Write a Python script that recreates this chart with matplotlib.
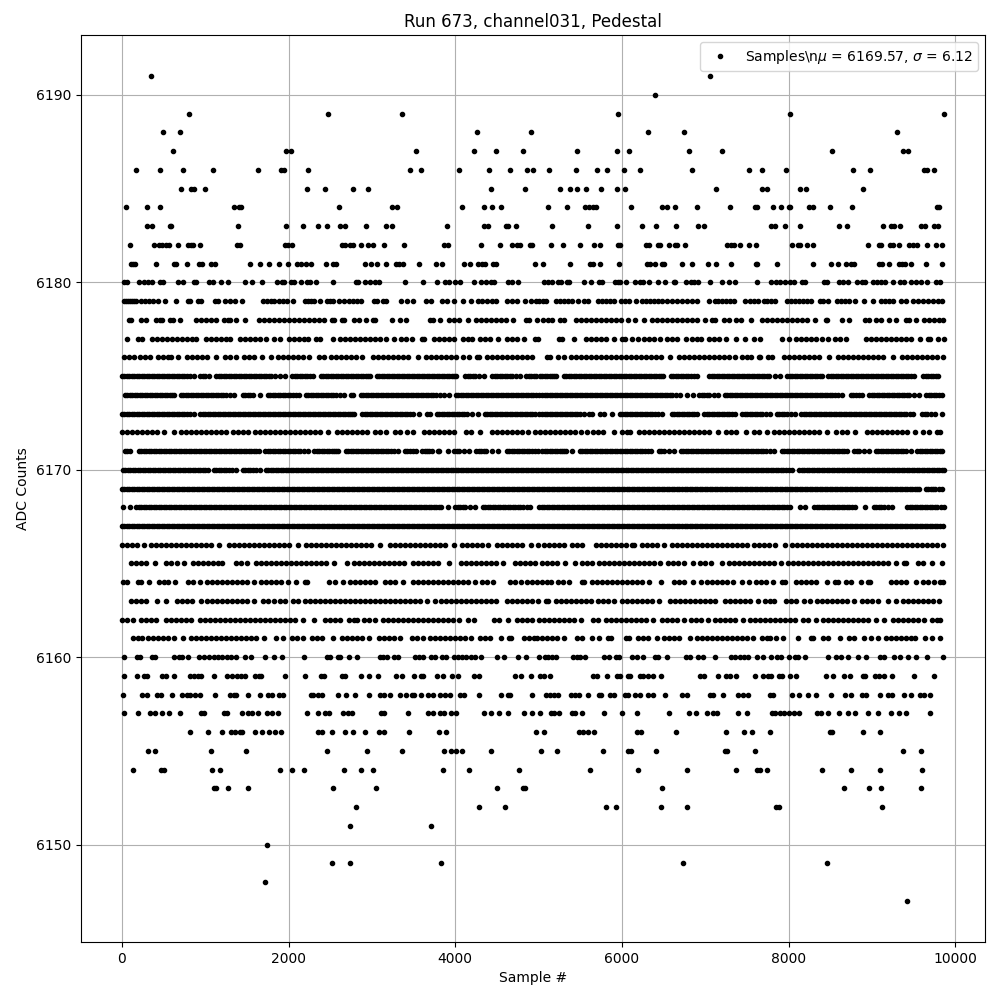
import matplotlib
matplotlib.use("Agg")
import matplotlib.pyplot as plt

s6191 = [344, 7056]
s6190 = [6396]
s6189 = [800, 2468, 3356, 5952, 8016, 9864]
s6188 = [488, 692, 4256, 4904, 6312, 6744, 9300]
s6187 = [608, 1964, 2024, 3524, 4220, 4484, 4808, 5460, 5940, 6084, 6804, 7200, 8520, 9372, 9432]
s6186 = [164, 452, 728, 1088, 1628, 1904, 1940, 2228, 3452, 3584, 4040, 4400, 4652, 4856, 4928, 5124, 5448, 5700, 5820, 6024, 6216, 6840, 7524, 7680, 7968, 8772, 8976, 9624, 9660, 9744]
s6185 = [704, 824, 860, 992, 2216, 2432, 2768, 2948, 4424, 4832, 5256, 5376, 5460, 5568, 5748, 5940, 6036, 7128, 7680, 7740, 8136, 8208, 8892]
s6184 = [44, 296, 452, 1340, 1400, 1424, 2600, 3236, 3296, 4076, 4340, 4436, 4548, 5112, 5340, 5556, 5604, 5652, 5688, 6108, 6480, 6540, 6636, 6900, 7296, 7596, 7620, 7812, 7908, 8004, 8016, 8244, 8292, 8496, 8760, 9780, 9804]
s6183 = [296, 356, 572, 584, 1388, 1964, 2168, 2348, 2456, 2612, 2672, 2924, 3164, 3236, 3896, 4340, 4388, 4604, 4628, 4724, 5160, 5592, 5940, 6240, 6408, 6648, 6912, 6984, 7788, 7836, 7956, 8136, 8604, 8700, 9132, 9228, 9264, 9336, 9588, 9636, 9744, 9792]
s6182 = [92, 380, 440, 476, 524, 560, 668, 788, 824, 848, 932, 1376, 1412, 1952, 1988, 2036, 2636, 2672, 2732, 2768, 2864, 2948, 3008, 3140, 3380, 3860, 3908, 4304, 4532, 4676, 4736, 4772, 4892, 4916, 5148, 5292, 5496, 5664, 5736, 5952, 5976, 6288, 6324, 6432, 6456, 6564, 6636, 6660, 6756, 7260, 7308, 7344, 7416, 7524, 7608, 8040, 8112, 8136, 8220, 8292, 8952, 9084, 9108, 9216, 9252, 9324, 9444, 9492, 9540, 9660, 9768, 9840]
s6181 = [104, 128, 152, 404, 620, 644, 776, 920, 956, 1064, 1112, 1532, 1652, 1760, 1880, 1988, 2096, 2144, 2204, 2264, 2444, 2528, 2564, 2912, 2984, 3056, 3164, 3284, 3320, 3368, 3560, 3764, 3836, 4100, 4172, 4268, 4316, 4352, 4448, 4484, 4952, 5052, 5376, 5616, 5652, 5736, 5964, 6300, 6336, 6396, 6480, 6504, 6720, 6840, 7032, 7128, 7308, 7608, 7620, 7860, 8292, 8508, 8592, 8688, 8748, 8784, 9084, 9120, 9204, 9324, 9360, 9396, 9468, 9648, 9840]
s6180 = [20, 56, 200, 260, 308, 356, 452, 488, 668, 728, 860, 884, 1040, 1088, 1184, 1268, 1472, 1556, 1676, 1856, 1916, 1940, 2024, 2060, 2144, 2216, 2252, 2324, 2528, 2804, 2828, 2912, 2972, 3032, 3080, 3392, 3608, 3776, 3872, 3920, 3992, 4052, 4220, 4304, 4364, 4424, 4460, 4628, 4676, 4752, 5064, 5112, 5160, 5232, 5268, 5340, 5364, 5544, 5628, 5724, 5760, 5916, 5952, 5976, 6048, 6156, 6216, 6252, 6324, 6432, 6516, 6624, 6636, 6768, 6828, 6864, 6912, 7056, 7200, 7284, 7356, 7620, 7788, 7848, 7896, 7956, 8016, 8064, 8160, 8196, 8424, 8460, 8604, 8652, 8712, 8820, 8880, 8916, 9012, 9060, 9108, 9156, 9252, 9336, 9384, 9468, 9528, 9588, 9660, 9768, 9816]
s6179 = [20, 44, 68, 92, 116, 140, 164, 224, 272, 320, 368, 428, 512, 644, 788, 812, 908, 944, 1112, 1148, 1232, 1292, 1352, 1436, 1688, 1736, 1784, 1820, 1880, 1928, 1976, 2048, 2192, 2228, 2264, 2300, 2372, 2456, 2492, 2528, 2600, 2660, 2720, 2768, 2816, 2864, 3020, 3056, 3128, 3164, 3344, 3416, 3488, 3644, 3704, 3836, 3896, 3980, 4088, 4184, 4268, 4316, 4376, 4436, 4484, 4616, 4676, 4736, 4832, 4904, 4964, 5004, 5052, 5088, 5208, 5256, 5304, 5352, 5400, 5476, 5544, 5592, 5712, 5760, 5808, 5856, 5904, 5988, 6036, 6084, 6168, 6240, 6288, 6336, 6384, 6432, 6480, 6540, 6600, 6660, 6720, 6780, 6840, 6900, 7044, 7116, 7152, 7200, 7248, 7296, 7344, 7476, 7536, 7584, 7632, 7704, 7740, 7788, 7836, 7980, 8028, 8076, 8124, 8172, 8220, 8268, 8376, 8412, 8472, 8580, 8628, 8676, 8724, 8796, 8904, 9012, 9108, 9156, 9204, 9252, 9348, 9408, 9492, 9552, 9612, 9672, 9732, 9792, 9840]
s6178 = [88, 104, 232, 292, 404, 452, 476, 580, 608, 692, 892, 952, 1012, 1072, 1128, 1228, 1268, 1300, 1366, 1476, 1640, 1700, 1760, 1820, 1880, 1940, 2000, 2060, 2120, 2180, 2240, 2300, 2360, 2420, 2524, 2548, 2644, 2668, 2788, 2848, 2928, 3016, 3040, 3244, 3340, 3412, 3700, 3732, 3812, 3928, 3988, 4048, 4148, 4252, 4312, 4372, 4432, 4492, 4552, 4612, 4692, 4852, 4884, 4984, 5056, 5116, 5160, 5252, 5300, 5444, 5504, 5564, 5624, 5684, 5744, 5804, 5864, 5924, 5984, 6068, 6160, 6260, 6364, 6424, 6484, 6544, 6604, 6664, 6724, 6784, 6844, 6904, 7000, 7076, 7120, 7224, 7280, 7372, 7428, 7550, 7676, 7736, 7796, 7856, 7916, 7976, 8036, 8096, 8156, 8216, 8316, 8444, 8460, 8644, 8724, 8916, 8964, 9044, 9104, 9200, 9284, 9412, 9440, 9524, 9628, 9688, 9748, 9808, 9852]
s6177 = [58, 196, 244, 364, 424, 484, 544, 604, 664, 724, 784, 844, 888, 1012, 1072, 1132, 1192, 1252, 1300, 1420, 1480, 1540, 1600, 1660, 1724, 1824, 1892, 2004, 2064, 2124, 2184, 2228, 2332, 2372, 2530, 2620, 2680, 2740, 2800, 2860, 2920, 2980, 3040, 3100, 3172, 3262, 3352, 3408, 3480, 3604, 3620, 3744, 3804, 3864, 3924, 3988, 4092, 4152, 4196, 4292, 4352, 4412, 4508, 4620, 4680, 4740, 4820, 4952, 4988, 5244, 5280, 5424, 5564, 5624, 5684, 5744, 5804, 5908, 6004, 6040, 6124, 6188, 6268, 6328, 6388, 6452, 6540, 6600, 6660, 6772, 6844, 6904, 6952, 7044, 7104, 7164, 7252, 7370, 7476, 7584, 7652, 7924, 8000, 8092, 8152, 8212, 8272, 8332, 8400, 8468, 8556, 8616, 8692, 8924, 8984, 9044, 9104, 9164, 9224, 9284, 9344, 9404, 9464, 9580, 9676, 9700, 9796, 9868]
s6176 = [24, 84, 144, 216, 276, 340, 432, 492, 552, 588, 670, 780, 840, 900, 960, 1020, 1128, 1236, 1292, 1364, 1464, 1524, 1588, 1680, 1788, 1872, 1932, 1992, 2052, 2112, 2176, 2242, 2364, 2428, 2512, 2572, 2632, 2692, 2752, 2808, 2880, 3012, 3072, 3132, 3192, 3252, 3312, 3372, 3432, 3548, 3652, 3712, 3772, 3832, 3892, 3952, 4012, 4088, 4160, 4260, 4288, 4380, 4440, 4500, 4560, 4620, 4680, 4740, 4800, 4860, 4916, 5104, 5140, 5232, 5308, 5392, 5452, 5512, 5572, 5632, 5692, 5752, 5812, 5872, 5932, 5992, 6052, 6112, 6172, 6232, 6292, 6352, 6412, 6472, 6572, 6684, 6744, 6804, 6864, 6924, 6984, 7044, 7104, 7164, 7224, 7284, 7356, 7444, 7504, 7548, 7644, 7652, 7756, 7800, 7948, 8008, 8068, 8128, 8188, 8248, 8308, 8368, 8484, 8592, 8652, 8712, 8772, 8832, 8892, 8952, 9012, 9072, 9132, 9252, 9356, 9416, 9476, 9536, 9596, 9656, 9716, 9776, 9852]
s6175 = [0, 30, 60, 90, 120, 150, 180, 210, 240, 270, 300, 330, 360, 390, 420, 450, 480, 510, 540, 570, 600, 630, 660, 690, 720, 750, 780, 820, 860, 940, 970, 1000, 1040, 1132, 1162, 1192, 1222, 1252, 1282, 1312, 1342, 1372, 1402, 1432, 1462, 1492, 1522, 1552, 1582, 1612, 1642, 1672, 1702, 1732, 1762, 1792, 1840, 1892, 1960, 2044, 2074, 2104, 2134, 2164, 2194, 2224, 2260, 2296, 2388, 2418, 2448, 2478, 2508, 2538, 2568, 2598, 2628, 2658, 2688, 2718, 2748, 2778, 2808, 2838, 2868, 2898, 2928, 2955, 2980, 3060, 3090, 3120, 3150, 3180, 3210, 3240, 3270, 3300, 3330, 3360, 3390, 3420, 3450, 3480, 3510, 3540, 3570, 3600, 3630, 3660, 3690, 3720, 3750, 3780, 3810, 3840, 3870, 3900, 3930, 3960, 3985, 4008, 4120, 4150, 4180, 4210, 4240, 4290, 4340, 4444, 4474, 4504, 4534, 4564, 4594, 4624, 4654, 4684, 4730, 4776, 4852, 4882, 4912, 4942, 4972, 5014, 5044, 5074, 5104, 5134, 5164, 5186, 5208, 5304, 5334, 5364, 5394, 5424, 5454, 5484, 5514, 5544, 5574, 5604, 5634, 5664, 5694, 5724, 5754, 5784, 5814, 5844, 5874, 5904, 5934, 5964, 5994, 6024, 6054, 6084, 6114, 6144, 6174, 6204, 6234, 6264, 6294, 6324, 6354, 6384, 6414, 6444, 6468, 6492, 6584, 6614, 6644, 6674, 6704, 6734, 6764, 6794, 6824, 6860, 6900, 7044, 7074, 7104, 7134, 7164, 7194, 7224, 7254, 7284, 7314, 7344, 7374, 7404, 7434, 7464, 7494, 7524, 7554, 7584, 7614, 7644, 7674, 7704, 7734, 7764, 7830, 7900, 7984, 8014, 8044, 8074, 8104, 8134, 8164, 8194, 8224, 8254, 8284, 8314, 8344, 8372, 8400, 8476, 8506, 8536, 8566, 8596, 8626, 8656, 8686, 8716, 8746, 8776, 8806, 8836, 8866, 8896, 8926, 8956, 8986, 9016, 9046, 9076, 9106, 9136, 9166, 9196, 9226, 9256, 9286, 9316, 9346, 9376, 9406, 9436, 9470, 9508, 9612, 9642, 9672, 9702, 9732, 9764, 9796]
s6174 = [32, 62, 92, 122, 152, 182, 212, 242, 272, 302, 332, 362, 392, 422, 452, 482, 512, 542, 572, 600, 628, 708, 738, 768, 798, 828, 858, 888, 918, 948, 978, 1008, 1038, 1068, 1098, 1128, 1158, 1188, 1218, 1248, 1295, 1340, 1452, 1482, 1512, 1540, 1568, 1660, 1752, 1782, 1812, 1842, 1872, 1902, 1932, 1962, 1992, 2022, 2052, 2090, 2128, 2204, 2234, 2264, 2294, 2324, 2354, 2384, 2414, 2444, 2474, 2504, 2534, 2564, 2612, 2660, 2744, 2768, 2868, 2898, 2928, 2958, 2988, 3018, 3048, 3078, 3108, 3138, 3168, 3198, 3228, 3258, 3288, 3318, 3348, 3378, 3408, 3438, 3468, 3498, 3528, 3558, 3588, 3618, 3648, 3678, 3708, 3738, 3768, 3818, 3868, 3928, 4004, 4034, 4064, 4094, 4124, 4154, 4184, 4214, 4244, 4274, 4304, 4334, 4364, 4394, 4424, 4454, 4484, 4514, 4544, 4574, 4604, 4634, 4664, 4694, 4724, 4754, 4784, 4814, 4844, 4874, 4904, 4934, 4964, 5004, 5044, 5074, 5104, 5134, 5164, 5194, 5224, 5254, 5284, 5314, 5344, 5374, 5404, 5434, 5464, 5494, 5524, 5554, 5584, 5614, 5644, 5674, 5704, 5734, 5764, 5794, 5824, 5854, 5884, 5914, 5944, 5974, 6004, 6034, 6064, 6094, 6124, 6154, 6184, 6214, 6244, 6274, 6304, 6334, 6364, 6394, 6424, 6454, 6484, 6514, 6544, 6574, 6604, 6652, 6700, 6776, 6848, 6924, 6954, 6984, 7014, 7044, 7098, 7152, 7232, 7262, 7292, 7322, 7352, 7382, 7412, 7442, 7472, 7502, 7532, 7562, 7592, 7622, 7652, 7682, 7712, 7742, 7772, 7802, 7832, 7862, 7892, 7922, 7952, 7982, 8012, 8042, 8072, 8102, 8132, 8162, 8192, 8222, 8252, 8282, 8312, 8342, 8372, 8402, 8432, 8462, 8492, 8522, 8552, 8596, 8640, 8744, 8774, 8804, 8842, 8880, 8964, 8994, 9024, 9054, 9084, 9114, 9144, 9174, 9204, 9234, 9264, 9294, 9324, 9354, 9384, 9414, 9444, 9504, 9564, 9652, 9682, 9712, 9742, 9772, 9806, 9840]
s6173 = [0, 30, 60, 90, 120, 150, 180, 210, 240, 270, 300, 330, 360, 390, 420, 450, 480, 510, 540, 570, 600, 630, 660, 690, 720, 750, 780, 820, 860, 940, 970, 1000, 1030, 1060, 1090, 1120, 1150, 1180, 1210, 1240, 1270, 1300, 1330, 1360, 1390, 1420, 1450, 1480, 1510, 1540, 1570, 1600, 1630, 1660, 1690, 1720, 1750, 1780, 1810, 1840, 1870, 1900, 1930, 1960, 1990, 2020, 2050, 2080, 2110, 2140, 2170, 2200, 2230, 2260, 2290, 2320, 2350, 2380, 2410, 2440, 2470, 2500, 2530, 2560, 2590, 2620, 2650, 2680, 2710, 2740, 2764, 2788, 2884, 2914, 2944, 2974, 3004, 3034, 3064, 3094, 3124, 3154, 3184, 3214, 3244, 3274, 3304, 3334, 3364, 3394, 3424, 3456, 3488, 3570, 3664, 3700, 3780, 3810, 3840, 3870, 3900, 3930, 3960, 3990, 4020, 4050, 4080, 4110, 4140, 4204, 4268, 4356, 4386, 4416, 4446, 4476, 4506, 4536, 4566, 4596, 4626, 4656, 4686, 4716, 4746, 4776, 4806, 4836, 4866, 4896, 4926, 4956, 5000, 5044, 5074, 5104, 5134, 5164, 5194, 5224, 5254, 5284, 5314, 5344, 5374, 5404, 5434, 5464, 5502, 5540, 5604, 5640, 5736, 5780, 5876, 5972, 6002, 6032, 6062, 6092, 6122, 6152, 6182, 6212, 6242, 6272, 6302, 6332, 6362, 6392, 6436, 6480, 6596, 6626, 6656, 6686, 6716, 6746, 6776, 6806, 6836, 6868, 6900, 6988, 7018, 7048, 7078, 7108, 7138, 7168, 7198, 7228, 7258, 7288, 7322, 7356, 7444, 7474, 7504, 7534, 7564, 7594, 7624, 7654, 7684, 7732, 7780, 7856, 7886, 7916, 7946, 7976, 8024, 8072, 8152, 8182, 8212, 8242, 8272, 8302, 8332, 8362, 8392, 8422, 8452, 8482, 8512, 8542, 8572, 8602, 8632, 8662, 8692, 8722, 8752, 8782, 8812, 8842, 8872, 8902, 8932, 8962, 8992, 9022, 9052, 9082, 9112, 9142, 9172, 9202, 9232, 9262, 9292, 9322, 9352, 9382, 9412, 9452, 9492, 9604, 9634, 9664, 9712, 9760, 9842]
s6172 = [0, 60, 120, 180, 240, 300, 360, 420, 500, 624, 712, 772, 832, 892, 952, 1012, 1072, 1132, 1192, 1248, 1332, 1392, 1452, 1508, 1596, 1656, 1716, 1776, 1836, 1896, 1956, 2016, 2076, 2136, 2196, 2256, 2316, 2376, 2468, 2580, 2640, 2700, 2760, 2820, 2880, 2940, 3032, 3092, 3172, 3276, 3336, 3420, 3492, 3624, 3684, 3744, 3804, 3864, 3924, 3988, 4132, 4192, 4292, 4444, 4504, 4564, 4624, 4684, 4744, 4804, 4876, 4952, 5012, 5072, 5132, 5192, 5252, 5312, 5372, 5432, 5508, 5582, 5656, 5716, 5776, 5904, 5996, 6056, 6100, 6204, 6264, 6324, 6384, 6444, 6504, 6564, 6624, 6684, 6744, 6804, 6864, 6924, 6984, 7044, 7156, 7248, 7308, 7368, 7492, 7580, 7640, 7740, 7828, 7888, 7948, 8008, 8068, 8128, 8188, 8248, 8308, 8368, 8460, 8572, 8644, 8704, 8800, 8940, 9000, 9060, 9120, 9180, 9240, 9300, 9360, 9420, 9520, 9612, 9688, 9784, 9820]
s6171 = [32, 64, 96, 200, 230, 260, 290, 320, 350, 380, 410, 440, 470, 500, 530, 560, 590, 620, 650, 680, 710, 740, 770, 800, 830, 860, 890, 920, 950, 980, 1010, 1040, 1070, 1100, 1130, 1160, 1190, 1220, 1250, 1280, 1310, 1340, 1370, 1400, 1430, 1460, 1490, 1520, 1550, 1580, 1614, 1648, 1720, 1750, 1780, 1810, 1840, 1870, 1900, 1930, 1960, 1990, 2020, 2050, 2080, 2110, 2140, 2184, 2228, 2308, 2338, 2368, 2398, 2428, 2458, 2488, 2518, 2548, 2572, 2596, 2684, 2714, 2744, 2774, 2804, 2834, 2864, 2894, 2924, 2954, 2984, 3014, 3044, 3074, 3104, 3134, 3164, 3194, 3224, 3266, 3308, 3396, 3426, 3456, 3492, 3528, 3604, 3634, 3664, 3690, 3716, 3796, 3808, 3908, 3988, 4018, 4048, 4108, 4168, 4252, 4282, 4312, 4342, 4372, 4440, 4508, 4620, 4650, 4680, 4710, 4740, 4770, 4800, 4830, 4860, 4890, 4920, 4954, 4988, 5044, 5074, 5104, 5134, 5164, 5194, 5224, 5254, 5284, 5308, 5332, 5400, 5492, 5522, 5552, 5582, 5612, 5642, 5672, 5702, 5732, 5762, 5792, 5822, 5852, 5882, 5912, 5942, 5972, 6002, 6032, 6062, 6092, 6122, 6152, 6182, 6212, 6242, 6272, 6310, 6348, 6444, 6474, 6504, 6562, 6620, 6704, 6734, 6764, 6794, 6824, 6854, 6884, 6914, 6944, 6974, 7004, 7034, 7064, 7094, 7124, 7154, 7184, 7214, 7244, 7274, 7304, 7334, 7364, 7394, 7424, 7454, 7484, 7514, 7544, 7574, 7604, 7634, 7664, 7694, 7724, 7772, 7820, 7916, 7946, 7976, 8006, 8036, 8066, 8096, 8126, 8156, 8186, 8216, 8246, 8276, 8306, 8336, 8366, 8396, 8426, 8456, 8486, 8516, 8546, 8576, 8606, 8636, 8668, 8700, 8788, 8818, 8848, 8904, 8960, 9044, 9074, 9104, 9134, 9164, 9194, 9224, 9254, 9284, 9314, 9344, 9376, 9408, 9472, 9544, 9574, 9604, 9634, 9664, 9694, 9724, 9754, 9784, 9812, 9840]
s6170 = [12, 42, 72, 102, 132, 162, 192, 222, 252, 282, 312, 342, 372, 402, 432, 462, 492, 522, 552, 582, 612, 642, 672, 702, 732, 762, 792, 822, 852, 882, 912, 942, 972, 1000, 1028, 1104, 1134, 1164, 1194, 1224, 1254, 1284, 1324, 1364, 1452, 1482, 1512, 1542, 1572, 1612, 1652, 1724, 1754, 1784, 1814, 1844, 1874, 1904, 1934, 1964, 1994, 2024, 2054, 2084, 2114, 2144, 2174, 2204, 2234, 2264, 2294, 2324, 2354, 2384, 2414, 2444, 2474, 2504, 2534, 2564, 2594, 2624, 2654, 2684, 2714, 2744, 2774, 2804, 2834, 2864, 2894, 2924, 2954, 2984, 3014, 3044, 3074, 3104, 3134, 3164, 3194, 3224, 3254, 3284, 3314, 3344, 3374, 3404, 3434, 3464, 3494, 3524, 3554, 3584, 3614, 3644, 3674, 3704, 3734, 3764, 3794, 3824, 3854, 3884, 3914, 3944, 3974, 4004, 4034, 4064, 4094, 4124, 4154, 4184, 4214, 4244, 4274, 4304, 4334, 4364, 4394, 4424, 4454, 4484, 4514, 4544, 4574, 4604, 4634, 4664, 4694, 4724, 4754, 4784, 4814, 4844, 4874, 4904, 4934, 4964, 4994, 5024, 5054, 5084, 5114, 5144, 5174, 5204, 5234, 5264, 5294, 5324, 5354, 5384, 5414, 5444, 5474, 5504, 5534, 5564, 5594, 5624, 5654, 5684, 5714, 5744, 5774, 5804, 5834, 5864, 5894, 5924, 5954, 5984, 6014, 6044, 6074, 6104, 6134, 6164, 6194, 6224, 6254, 6284, 6314, 6344, 6374, 6404, 6434, 6464, 6494, 6524, 6554, 6584, 6614, 6644, 6674, 6704, 6734, 6764, 6794, 6824, 6854, 6884, 6914, 6944, 6974, 7004, 7034, 7064, 7094, 7124, 7154, 7184, 7214, 7244, 7274, 7304, 7334, 7364, 7394, 7424, 7454, 7484, 7514, 7544, 7574, 7604, 7634, 7664, 7694, 7724, 7754, 7784, 7814, 7844, 7874, 7904, 7934, 7964, 8002, 8040, 8128, 8158, 8188, 8218, 8248, 8278, 8308, 8338, 8368, 8398, 8428, 8458, 8488, 8518, 8548, 8578, 8608, 8638, 8668, 8698, 8728, 8758, 8788, 8818, 8848, 8878, 8908, 8938, 8968, 8998, 9028, 9058, 9088, 9118, 9148, 9178, 9208, 9238, 9268, 9298, 9328, 9358, 9388, 9418, 9448, 9478, 9508, 9538, 9568, 9598, 9628, 9658, 9688, 9718, 9748, 9778, 9808, 9834, 9860]
s6169 = [0, 30, 60, 90, 120, 150, 180, 210, 240, 270, 300, 330, 360, 390, 420, 450, 480, 510, 540, 570, 600, 630, 660, 690, 720, 750, 780, 810, 840, 870, 900, 930, 960, 990, 1020, 1050, 1080, 1110, 1140, 1170, 1200, 1230, 1260, 1290, 1320, 1350, 1380, 1410, 1440, 1470, 1500, 1530, 1560, 1590, 1620, 1650, 1680, 1710, 1740, 1770, 1800, 1830, 1860, 1890, 1920, 1950, 1980, 2010, 2040, 2070, 2100, 2130, 2160, 2190, 2220, 2250, 2280, 2310, 2340, 2370, 2400, 2430, 2460, 2490, 2520, 2550, 2580, 2610, 2640, 2670, 2700, 2730, 2760, 2790, 2820, 2850, 2880, 2910, 2940, 2970, 3000, 3030, 3060, 3090, 3120, 3150, 3180, 3210, 3240, 3270, 3300, 3330, 3360, 3390, 3420, 3450, 3480, 3510, 3540, 3570, 3600, 3630, 3660, 3690, 3720, 3750, 3780, 3810, 3840, 3870, 3900, 3930, 3960, 3990, 4020, 4050, 4080, 4110, 4140, 4170, 4200, 4230, 4260, 4290, 4320, 4350, 4380, 4410, 4440, 4470, 4500, 4530, 4560, 4590, 4620, 4650, 4680, 4710, 4740, 4770, 4800, 4830, 4860, 4890, 4920, 4950, 4980, 5010, 5040, 5070, 5100, 5130, 5160, 5190, 5220, 5250, 5280, 5310, 5340, 5370, 5400, 5430, 5460, 5490, 5520, 5550, 5580, 5610, 5640, 5670, 5700, 5730, 5760, 5790, 5820, 5850, 5880, 5910, 5940, 5970, 6000, 6030, 6060, 6090, 6120, 6150, 6180, 6210, 6240, 6270, 6300, 6330, 6360, 6390, 6420, 6450, 6480, 6510, 6540, 6570, 6600, 6630, 6660, 6690, 6720, 6750, 6780, 6810, 6840, 6870, 6900, 6930, 6960, 6990, 7020, 7050, 7080, 7110, 7140, 7170, 7200, 7230, 7260, 7290, 7320, 7350, 7380, 7410, 7440, 7470, 7500, 7530, 7560, 7590, 7620, 7650, 7680, 7710, 7740, 7770, 7800, 7830, 7860, 7890, 7920, 7950, 7980, 8010, 8040, 8070, 8100, 8130, 8160, 8190, 8220, 8250, 8280, 8310, 8340, 8370, 8400, 8430, 8460, 8490, 8520, 8550, 8580, 8610, 8640, 8670, 8700, 8730, 8760, 8790, 8820, 8850, 8880, 8910, 8940, 8970, 9000, 9030, 9060, 9090, 9120, 9150, 9180, 9210, 9240, 9270, 9300, 9330, 9360, 9390, 9420, 9450, 9480, 9510, 9540, 9568, 9644, 9674, 9704, 9732, 9760, 9800, 9840]
s6168 = [12, 92, 172, 202, 232, 262, 292, 322, 352, 382, 412, 442, 472, 502, 532, 562, 592, 622, 652, 682, 712, 742, 772, 802, 832, 862, 892, 922, 952, 982, 1012, 1042, 1072, 1102, 1132, 1162, 1192, 1222, 1252, 1282, 1312, 1342, 1372, 1402, 1432, 1462, 1492, 1522, 1552, 1582, 1612, 1642, 1672, 1702, 1732, 1762, 1792, 1822, 1852, 1882, 1912, 1942, 1972, 2002, 2032, 2062, 2092, 2122, 2152, 2182, 2212, 2242, 2272, 2302, 2332, 2362, 2392, 2422, 2452, 2482, 2512, 2542, 2572, 2602, 2632, 2662, 2692, 2722, 2752, 2782, 2812, 2842, 2872, 2902, 2932, 2962, 2992, 3022, 3052, 3082, 3112, 3142, 3172, 3202, 3232, 3262, 3292, 3322, 3352, 3382, 3412, 3442, 3472, 3502, 3532, 3562, 3592, 3622, 3652, 3682, 3712, 3742, 3772, 3800, 3828, 3916, 4000, 4030, 4060, 4090, 4120, 4178, 4236, 4332, 4362, 4392, 4422, 4452, 4482, 4512, 4542, 4572, 4602, 4632, 4662, 4692, 4722, 4752, 4782, 4812, 4856, 4900, 5000, 5036, 5066, 5096, 5126, 5156, 5186, 5216, 5246, 5276, 5306, 5336, 5366, 5396, 5426, 5456, 5486, 5516, 5546, 5576, 5606, 5636, 5666, 5696, 5726, 5756, 5786, 5816, 5846, 5876, 5906, 5936, 5966, 5996, 6026, 6056, 6086, 6116, 6146, 6176, 6206, 6236, 6266, 6296, 6326, 6356, 6386, 6416, 6446, 6476, 6506, 6536, 6566, 6596, 6626, 6656, 6686, 6716, 6746, 6776, 6806, 6836, 6866, 6896, 6926, 6956, 6986, 7016, 7046, 7076, 7106, 7136, 7166, 7196, 7226, 7256, 7286, 7316, 7346, 7376, 7406, 7436, 7466, 7496, 7526, 7556, 7586, 7616, 7646, 7676, 7706, 7736, 7766, 7796, 7826, 7856, 7886, 7916, 7946, 7976, 8020, 8136, 8192, 8304, 8334, 8364, 8394, 8424, 8454, 8484, 8514, 8544, 8574, 8604, 8634, 8664, 8694, 8724, 8762, 8800, 8912, 9020, 9050, 9080, 9110, 9140, 9190, 9240, 9424, 9454, 9484, 9514, 9544, 9574, 9604, 9634, 9664, 9694, 9724, 9754, 9784, 9826, 9868]
s6167 = [0, 30, 60, 90, 120, 150, 180, 210, 240, 270, 300, 330, 360, 390, 420, 450, 480, 510, 540, 570, 600, 630, 660, 690, 720, 750, 780, 810, 840, 870, 900, 930, 960, 990, 1020, 1050, 1080, 1110, 1140, 1170, 1200, 1230, 1260, 1290, 1320, 1350, 1380, 1410, 1440, 1470, 1500, 1530, 1560, 1590, 1620, 1650, 1680, 1710, 1740, 1770, 1800, 1830, 1860, 1890, 1920, 1950, 1980, 2010, 2040, 2070, 2100, 2130, 2160, 2190, 2220, 2250, 2280, 2310, 2340, 2370, 2400, 2430, 2460, 2490, 2520, 2550, 2580, 2610, 2640, 2670, 2700, 2730, 2760, 2790, 2820, 2850, 2880, 2910, 2940, 2970, 3000, 3030, 3060, 3090, 3120, 3150, 3180, 3210, 3240, 3270, 3300, 3330, 3360, 3390, 3420, 3450, 3480, 3510, 3540, 3570, 3600, 3630, 3660, 3690, 3720, 3750, 3780, 3810, 3840, 3870, 3900, 3930, 3960, 3990, 4020, 4050, 4080, 4110, 4140, 4170, 4200, 4230, 4260, 4290, 4320, 4350, 4380, 4410, 4440, 4470, 4500, 4530, 4560, 4590, 4620, 4650, 4680, 4710, 4740, 4770, 4800, 4830, 4860, 4890, 4920, 4950, 4980, 5010, 5040, 5070, 5100, 5130, 5160, 5190, 5220, 5250, 5280, 5310, 5340, 5370, 5400, 5430, 5460, 5490, 5520, 5550, 5580, 5610, 5640, 5670, 5700, 5730, 5760, 5790, 5820, 5850, 5880, 5910, 5940, 5970, 6000, 6030, 6060, 6090, 6120, 6150, 6180, 6210, 6240, 6270, 6300, 6330, 6360, 6390, 6420, 6450, 6480, 6510, 6540, 6570, 6600, 6630, 6660, 6690, 6720, 6750, 6780, 6810, 6840, 6870, 6900, 6930, 6960, 6990, 7020, 7050, 7080, 7110, 7140, 7170, 7200, 7230, 7260, 7290, 7320, 7350, 7380, 7410, 7440, 7470, 7500, 7530, 7560, 7590, 7620, 7650, 7680, 7710, 7740, 7770, 7800, 7830, 7860, 7890, 7920, 7950, 7980, 8010, 8040, 8070, 8100, 8130, 8160, 8190, 8220, 8250, 8280, 8310, 8340, 8370, 8400, 8430, 8460, 8490, 8520, 8550, 8580, 8610, 8640, 8670, 8700, 8730, 8760, 8790, 8820, 8850, 8880, 8910, 8940, 8970, 9000, 9030, 9060, 9090, 9120, 9150, 9180, 9210, 9240, 9270, 9300, 9330, 9360, 9390, 9420, 9450, 9480, 9510, 9540, 9570, 9600, 9630, 9660, 9690, 9720, 9750, 9780, 9810, 9848]
s6166 = [0, 60, 120, 180, 268, 352, 412, 472, 532, 592, 652, 712, 772, 832, 892, 952, 1012, 1072, 1160, 1284, 1344, 1404, 1464, 1524, 1584, 1644, 1704, 1764, 1824, 1884, 1944, 2004, 2116, 2212, 2272, 2332, 2392, 2452, 2512, 2572, 2632, 2692, 2752, 2812, 2872, 2932, 2992, 3100, 3220, 3280, 3340, 3400, 3460, 3520, 3580, 3640, 3700, 3760, 3820, 3880, 3988, 4076, 4136, 4196, 4256, 4316, 4388, 4500, 4560, 4620, 4680, 4740, 4800, 4908, 4996, 5064, 5124, 5184, 5244, 5308, 5404, 5464, 5520, 5684, 5744, 5804, 5864, 5924, 5984, 6052, 6124, 6140, 6236, 6296, 6356, 6416, 6500, 6596, 6656, 6716, 6776, 6836, 6896, 6956, 7016, 7076, 7136, 7196, 7256, 7316, 7376, 7436, 7500, 7588, 7648, 7708, 7768, 7840, 7958, 8044, 8104, 8164, 8224, 8284, 8344, 8404, 8464, 8524, 8584, 8644, 8704, 8764, 8824, 8884, 8944, 9004, 9064, 9124, 9184, 9244, 9304, 9364, 9424, 9484, 9544, 9604, 9664, 9724, 9784, 9852]
s6165 = [112, 172, 232, 292, 400, 532, 592, 656, 746, 852, 912, 972, 1032, 1092, 1152, 1204, 1372, 1432, 1496, 1604, 1664, 1724, 1784, 1844, 1904, 1964, 2024, 2084, 2144, 2204, 2264, 2324, 2384, 2444, 2540, 2698, 2784, 2844, 2904, 2964, 3024, 3084, 3144, 3204, 3264, 3324, 3380, 3492, 3552, 3612, 3672, 3732, 3796, 3922, 4072, 4132, 4192, 4252, 4312, 4372, 4432, 4492, 4568, 4712, 4772, 4832, 4892, 4952, 5044, 5104, 5164, 5224, 5320, 5440, 5516, 5576, 5640, 5724, 5784, 5844, 5904, 5964, 6024, 6084, 6144, 6204, 6264, 6324, 6384, 6460, 6556, 6616, 6676, 6740, 6848, 6932, 6992, 7068, 7202, 7284, 7344, 7404, 7464, 7524, 7584, 7644, 7704, 7764, 7824, 7908, 7996, 8056, 8116, 8176, 8236, 8296, 8356, 8416, 8476, 8536, 8596, 8656, 8716, 8776, 8836, 8896, 8956, 9016, 9076, 9136, 9196, 9292, 9384, 9408, 9556, 9616, 9720, 9834]
s6164 = [12, 60, 192, 228, 320, 444, 504, 548, 636, 796, 856, 940, 1020, 1080, 1140, 1200, 1260, 1320, 1380, 1440, 1500, 1580, 1664, 1724, 1784, 1844, 1904, 1988, 2090, 2192, 2220, 2480, 2556, 2650, 2736, 2796, 2856, 2916, 2976, 3036, 3152, 3212, 3272, 3372, 3488, 3548, 3608, 3668, 3728, 3788, 3848, 3908, 3968, 4028, 4088, 4148, 4236, 4324, 4384, 4452, 4652, 4712, 4788, 4864, 4924, 4984, 5044, 5104, 5148, 5236, 5296, 5368, 5524, 5548, 5636, 5696, 5756, 5816, 5876, 5936, 5996, 6056, 6116, 6176, 6236, 6320, 6466, 6628, 6688, 6748, 6852, 6942, 7024, 7084, 7144, 7204, 7264, 7332, 7444, 7520, 7604, 7664, 7724, 7812, 7924, 7960, 8084, 8144, 8204, 8264, 8324, 8460, 8552, 8596, 8684, 8744, 8868, 8956, 8980, 9224, 9284, 9344, 9404, 9532, 9612, 9672, 9740, 9816, 9852]
s6163 = [112, 172, 232, 292, 426, 534, 660, 720, 780, 840, 948, 1020, 1080, 1140, 1200, 1260, 1320, 1380, 1440, 1500, 1588, 1692, 1752, 1820, 1900, 1960, 2048, 2118, 2200, 2260, 2320, 2380, 2440, 2500, 2560, 2620, 2680, 2740, 2800, 2860, 2920, 2980, 3040, 3100, 3160, 3220, 3280, 3340, 3400, 3460, 3520, 3580, 3660, 3760, 3832, 3892, 3952, 4012, 4072, 4132, 4192, 4252, 4312, 4372, 4432, 4484, 4620, 4680, 4740, 4800, 4860, 4920, 4996, 5092, 5112, 5212, 5272, 5332, 5392, 5452, 5512, 5572, 5628, 5716, 5776, 5836, 5908, 5996, 6056, 6116, 6176, 6236, 6296, 6356, 6444, 6572, 6632, 6692, 6752, 6812, 6872, 6932, 6992, 7052, 7120, 7232, 7292, 7352, 7412, 7472, 7532, 7632, 7712, 7772, 7828, 7964, 8024, 8084, 8180, 8258, 8336, 8396, 8456, 8516, 8576, 8636, 8696, 8788, 8876, 8936, 8996, 9072, 9190, 9284, 9376, 9436, 9496, 9556, 9616, 9676, 9736, 9808]
s6162 = [0, 60, 128, 228, 288, 348, 412, 532, 592, 652, 712, 772, 832, 936, 996, 1056, 1116, 1176, 1236, 1296, 1356, 1416, 1476, 1536, 1596, 1656, 1716, 1776, 1836, 1896, 1956, 2016, 2076, 2168, 2302, 2436, 2496, 2556, 2620, 2724, 2784, 2816, 2904, 2964, 3040, 3132, 3192, 3252, 3312, 3372, 3432, 3492, 3552, 3612, 3672, 3732, 3792, 3852, 3912, 3972, 4040, 4156, 4220, 4464, 4524, 4628, 4740, 4800, 4860, 4920, 5004, 5064, 5124, 5184, 5244, 5304, 5364, 5424, 5508, 5648, 5712, 5812, 5872, 5932, 5992, 6052, 6112, 6172, 6232, 6292, 6372, 6484, 6544, 6604, 6664, 6740, 6824, 6884, 6944, 7032, 7116, 7176, 7236, 7296, 7356, 7452, 7540, 7600, 7660, 7720, 7780, 7840, 7900, 7960, 8020, 8080, 8176, 8236, 8332, 8408, 8468, 8528, 8588, 8648, 8708, 8768, 8828, 8888, 8948, 9048, 9146, 9256, 9316, 9376, 9436, 9496, 9556, 9628, 9724, 9784, 9820]
s6161 = [132, 192, 236, 312, 372, 432, 492, 552, 620, 730, 824, 884, 944, 1004, 1064, 1124, 1184, 1244, 1304, 1364, 1424, 1484, 1544, 1604, 1700, 1852, 1936, 2044, 2104, 2172, 2280, 2340, 2400, 2528, 2640, 2700, 2760, 2820, 2880, 2968, 3080, 3140, 3200, 3260, 3340, 3480, 3540, 3608, 3692, 3752, 3812, 3872, 3932, 3992, 4052, 4112, 4188, 4292, 4352, 4412, 4548, 4644, 4668, 4820, 4880, 4940, 4984, 5044, 5104, 5164, 5224, 5300, 5464, 5524, 5636, 5726, 5828, 5868, 6044, 6080, 6196, 6256, 6316, 6420, 6504, 6564, 6624, 6684, 6820, 6904, 6964, 7024, 7084, 7144, 7204, 7264, 7324, 7384, 7444, 7504, 7572, 7676, 7736, 7772, 7844, 7932, 8114, 8264, 8292, 8416, 8476, 8620, 8724, 8784, 8908, 8982, 9066, 9164, 9224, 9284, 9344, 9404, 9464, 9520, 9636, 9720, 9818]
s6160 = [20, 176, 212, 356, 392, 620, 680, 716, 788, 920, 980, 1040, 1100, 1148, 1196, 1256, 1304, 1364, 1472, 1544, 1712, 1820, 1916, 2180, 2456, 2492, 2588, 2612, 2720, 2816, 3092, 3128, 3176, 3260, 3308, 3512, 3560, 3608, 3704, 3752, 3836, 3884, 3980, 4028, 4076, 4124, 4184, 4232, 4304, 4496, 4580, 4748, 4844, 5000, 5076, 5112, 5160, 5208, 5412, 5460, 5496, 5556, 5784, 5844, 5928, 5964, 6120, 6180, 6252, 6396, 6432, 6540, 6768, 6816, 6912, 6972, 7116, 7308, 7356, 7416, 7464, 7512, 7620, 7692, 7788, 7860, 7908, 8004, 8076, 8112, 8196, 8472, 8568, 8628, 8712, 8832, 8928, 9096, 9144, 9264, 9336, 9432, 9528, 9660, 9852]
s6159 = [20, 176, 260, 296, 476, 524, 620, 812, 860, 908, 944, 1100, 1256, 1316, 1376, 1424, 1472, 1592, 1640, 1664, 1952, 2192, 2384, 2420, 2636, 2672, 2864, 2960, 3068, 3284, 3356, 3500, 3584, 3608, 3776, 3848, 3956, 4028, 4220, 4280, 4712, 4784, 4904, 5016, 5064, 5136, 5652, 5700, 5820, 5940, 5976, 6072, 6096, 6216, 6252, 6312, 6372, 6468, 6936, 6984, 7152, 7248, 7296, 7368, 7596, 7692, 7752, 7788, 7884, 7920, 8016, 8088, 8448, 8532, 8664, 8736, 8892, 8916, 9036, 9084, 9144, 9240, 9504, 9744]
s6158 = [8, 236, 296, 416, 464, 596, 716, 776, 812, 872, 932, 1112, 1292, 1340, 1364, 1508, 1652, 1748, 1796, 1880, 1928, 2264, 2288, 2348, 2396, 2588, 2684, 2792, 2960, 3092, 3140, 3212, 3332, 3404, 3476, 3500, 3584, 3668, 3728, 3812, 3872, 3932, 4052, 4100, 4280, 4544, 4628, 4652, 4916, 5088, 5136, 5184, 5232, 5388, 5436, 5484, 5592, 5724, 5748, 5856, 5904, 6036, 6072, 6156, 6216, 6312, 6372, 6516, 6720, 6780, 7056, 7092, 7212, 7392, 7452, 7512, 7776, 7812, 8040, 8124, 8232, 8328, 8508, 8676, 8748, 8880, 8928, 9096, 9192, 9240, 9384, 9468, 9576, 9624, 9696]
s6157 = [20, 188, 332, 392, 476, 560, 692, 944, 980, 1220, 1256, 1436, 1508, 1556, 1628, 1736, 1796, 1868, 2216, 2348, 2432, 2480, 2648, 2708, 2756, 3104, 3140, 3428, 3668, 3728, 3812, 3860, 3944, 4004, 4340, 4424, 4520, 4628, 4820, 4916, 5016, 5148, 5184, 5244, 5400, 5436, 5520, 5784, 6000, 6180, 6564, 6804, 6888, 7020, 7092, 7140, 7392, 7500, 7800, 7836, 7896, 7944, 8004, 8064, 8124, 8340, 8388, 8472, 8604, 8712, 8796, 8952, 9072, 9228, 9324, 9408, 9696]
s6156 = [812, 1028, 1196, 1304, 1352, 1412, 1436, 1592, 1676, 1760, 1832, 1904, 2348, 2396, 2516, 2672, 2768, 2912, 3080, 3140, 3440, 3800, 3884, 4964, 5064, 5484, 5532, 5592, 5664, 6180, 6228, 6648, 7248, 7464, 7560, 7776, 8496, 8520, 8892, 9096]
s6155 = [308, 392, 1064, 1484, 2456, 2936, 3356, 3860, 3944, 4004, 4076, 4424, 5028, 5220, 5772, 6072, 6108, 6408, 7236, 7260, 7596, 9372, 9588]
s6154 = [128, 464, 500, 1076, 1172, 1892, 2036, 2180, 2660, 2864, 3008, 3848, 4160, 4760, 5616, 6192, 6780, 7368, 7620, 7656, 7740, 8400, 8748, 9096, 9600]
s6153 = [1100, 1124, 1268, 1508, 2528, 3044, 4496, 4808, 4832, 6480, 8664, 8964, 9108, 9588]
s6152 = [2804, 4280, 4592, 5808, 5928, 6468, 6780, 7848, 7884, 9120]
s6151 = [2732, 3704]
s6150 = [1736]
s6149 = [2516, 2732, 3824, 6732, 8460]
s6148 = [1712]
s6147 = [9420]

levels = [6191, 6190, 6189, 6188, 6187, 6186, 6185, 6184, 6183, 6182, 6181, 6180, 6179, 6178, 6177, 6176, 6175, 6174, 6173, 6172, 6171, 6170, 6169, 6168, 6167, 6166, 6165, 6164, 6163, 6162, 6161, 6160, 6159, 6158, 6157, 6156, 6155, 6154, 6153, 6152, 6151, 6150, 6149, 6148, 6147]
rows = [s6191, s6190, s6189, s6188, s6187, s6186, s6185, s6184, s6183, s6182, s6181, s6180, s6179, s6178, s6177, s6176, s6175, s6174, s6173, s6172, s6171, s6170, s6169, s6168, s6167, s6166, s6165, s6164, s6163, s6162, s6161, s6160, s6159, s6158, s6157, s6156, s6155, s6154, s6153, s6152, s6151, s6150, s6149, s6148, s6147]

samples = []
counts = []
for level, row in zip(levels, rows):
    samples.extend(row)
    counts.extend([level] * len(row))

fig, ax = plt.subplots(figsize=(10, 10), dpi=100)
ax.plot(samples, counts, "k.", label="Samples\\n$\\mu$ = 6169.57, $\\sigma$ = 6.12")
ax.set_xlim(-490, 10355)
ax.set_ylim(6144.8, 6193.2)
ax.set_title("Run 673, channel031, Pedestal")
ax.set_xlabel("Sample #")
ax.set_ylabel("ADC Counts")
ax.grid(True)
ax.legend(loc="upper right")
fig.subplots_adjust(left=0.081, right=0.985, top=0.965, bottom=0.058)
fig.savefig("out.png", dpi=100)
